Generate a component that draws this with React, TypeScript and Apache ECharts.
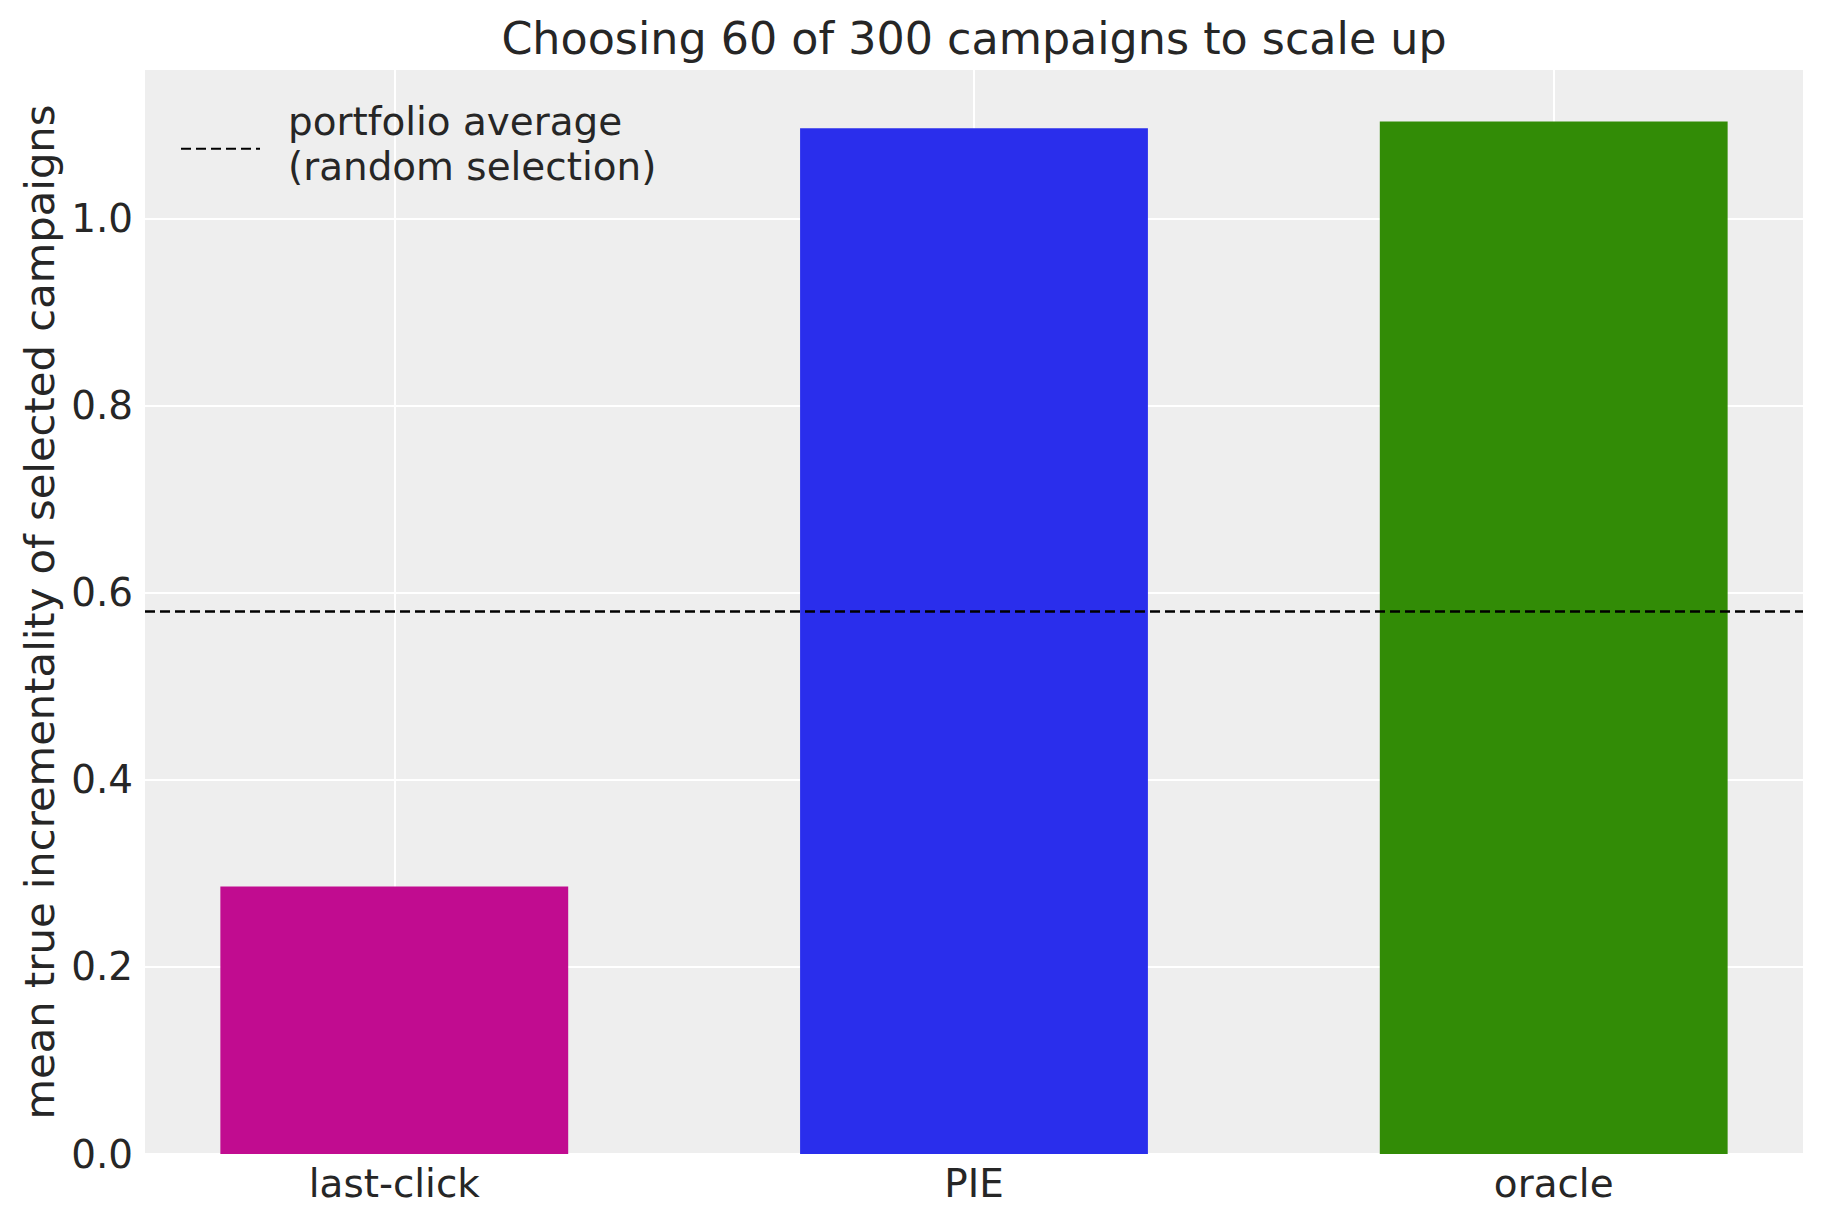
import React, { useEffect, useRef } from "react";
import * as echarts from "echarts";

// ---- data ----
const categories = ["last-click", "PIE", "oracle"];
const categoryPositions = [0, 1, 2];
const selectedMeans = [0.286, 1.097, 1.104];
const barColors = ["#c10c90", "#2a2eec", "#328c06"];
const portfolioAverage = 0.582;
const yTickValues = [0, 0.2, 0.4, 0.6, 0.8, 1.0];
const titleText = "Choosing 60 of 300 campaigns to scale up";
const yAxisLabel = "mean true incrementality of selected campaigns";
const legendLabel = "portfolio average\n(random selection)";

// ---- styling constants ----
const FONT = "DejaVu Sans";
const TEXT_COLOR = "#262626";
const BAR_FRACTION = 0.6;
const MARGIN = 0.05;

export default function App() {
  const ref = useRef<HTMLDivElement>(null);

  useEffect(() => {
    document.body.style.margin = "0";
    if (!ref.current) return;
    const chart = echarts.init(ref.current, undefined, { renderer: "svg" });

    const span = categoryPositions[categoryPositions.length - 1] - categoryPositions[0] + BAR_FRACTION;
    const xMin = categoryPositions[0] - BAR_FRACTION / 2 - MARGIN * span;
    const xMax = categoryPositions[categoryPositions.length - 1] + BAR_FRACTION / 2 + MARGIN * span;
    const yMax = Math.max(...selectedMeans) * (1 + MARGIN);

    const gridLeft = 145;
    const gridRight = 20;
    const width = 1823;
    const plotCenter = gridLeft + (width - gridLeft - gridRight) / 2;

    const dashed = { color: "#000000", width: 2.7, type: [10, 5] as number[] };

    chart.setOption({
      animation: false,
      backgroundColor: "#ffffff",
      textStyle: { fontFamily: FONT },
      title: {
        text: titleText,
        left: plotCenter,
        textAlign: "center",
        top: 16,
        padding: 0,
        textStyle: { fontFamily: FONT, fontSize: 44.4, fontWeight: "normal", color: TEXT_COLOR },
      },
      legend: {
        left: 180,
        top: 99,
        padding: 0,
        itemWidth: 79,
        itemHeight: 14,
        itemStyle: { opacity: 0 },
        data: [{ name: legendLabel }],
        formatter: (name: string) =>
          name
            .split("\n")
            .map((line) => `{a|${line}}`)
            .join("\n") + "\n{b|\u00a0}",
        textStyle: {
          fontFamily: FONT,
          fontSize: 38.9,
          lineHeight: 45,
          color: TEXT_COLOR,
          padding: [0, 0, 0, 23],
          rich: {
            a: { fontFamily: FONT, fontSize: 38.9, lineHeight: 45, color: TEXT_COLOR },
            b: { fontFamily: FONT, fontSize: 9, lineHeight: 9.5, color: TEXT_COLOR },
          },
        },
      },
      grid: {
        left: gridLeft,
        right: gridRight,
        top: 70,
        bottom: 69,
        show: true,
        backgroundColor: "#eeeeee",
        borderWidth: 0,
      },
      xAxis: {
        type: "value",
        min: xMin,
        max: xMax,
        axisLine: { show: false },
        axisTick: { show: false, customValues: categoryPositions },
        axisLabel: {
          customValues: categoryPositions,
          formatter: (v: number) => categories[Math.round(v)] ?? "",
          fontFamily: FONT,
          fontSize: 38.9,
          color: TEXT_COLOR,
          margin: 10,
        },
        splitLine: { show: true, lineStyle: { color: "#ffffff", width: 2 } },
      },
      yAxis: {
        type: "value",
        min: 0,
        max: yMax,
        name: yAxisLabel,
        nameLocation: "middle",
        nameGap: 85,
        nameTextStyle: { fontFamily: FONT, fontSize: 41.7, color: TEXT_COLOR },
        axisLine: { show: false },
        axisTick: { show: false, customValues: yTickValues },
        axisLabel: {
          customValues: yTickValues,
          formatter: (v: number) => v.toFixed(1),
          fontFamily: FONT,
          fontSize: 38.9,
          color: TEXT_COLOR,
          margin: 12,
        },
        splitLine: { show: true, lineStyle: { color: "#ffffff", width: 2 } },
      },
      series: [
        {
          type: "custom",
          name: "selected",
          data: categoryPositions.map((x, i) => [x, selectedMeans[i]]),
          renderItem: (params: any, api: any) => {
            const x = api.value(0);
            const y = api.value(1);
            const base = api.coord([x, 0]);
            const top = api.coord([x, y]);
            const w = api.size([BAR_FRACTION, 0])[0];
            return {
              type: "rect",
              shape: { x: base[0] - w / 2, y: top[1], width: w, height: base[1] - top[1] },
              style: { fill: barColors[params.dataIndex] },
            };
          },
          z: 2,
        },
        {
          type: "line",
          name: legendLabel,
          data: [],
          symbol: "none",
          lineStyle: dashed,
          itemStyle: { color: "#000000" },
          z: 5,
          markLine: {
            silent: true,
            symbol: "none",
            label: { show: false },
            lineStyle: dashed,
            data: [{ yAxis: portfolioAverage }],
          },
        },
      ],
    });

    return () => chart.dispose();
  }, []);

  return (
    <div
      ref={ref}
      style={{ position: "absolute", left: 0, top: 0, width: 1823, height: 1223 }}
    />
  );
}
